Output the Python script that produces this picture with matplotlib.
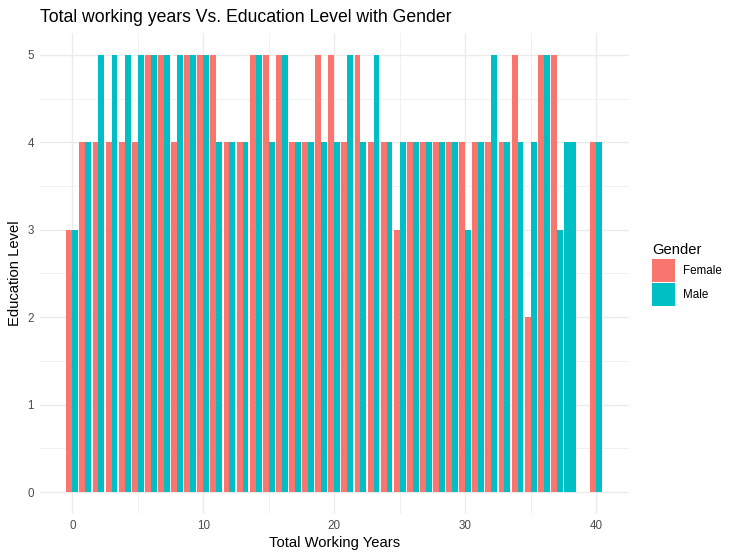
import matplotlib.pyplot as plt
from matplotlib.patches import Patch
from matplotlib.ticker import MultipleLocator

plt.rcParams['font.family'] = ['Liberation Sans', 'DejaVu Sans']

female_years = list(range(0, 38)) + [40]
female_edu = [3, 4, 4, 4, 4, 4, 5, 5, 4, 5, 5, 5, 4, 4, 5, 5, 5, 4, 4, 5,
              5, 4, 5, 4, 4, 3, 4, 4, 4, 4, 4, 4, 4, 4, 5, 2, 5, 5, 4]
male_years = list(range(0, 39)) + [40]
male_edu = [3, 4, 5, 5, 5, 5, 5, 5, 5, 5, 5, 4, 4, 4, 5, 4, 5, 4, 4, 4,
            4, 5, 4, 5, 4, 4, 4, 4, 4, 4, 3, 4, 5, 4, 4, 4, 5, 3, 4, 4]
groups = ['Female', 'Male']
colors = {'Female': '#F8766D', 'Male': '#00BFC4'}
series = {'Female': dict(zip(female_years, female_edu)),
          'Male': dict(zip(male_years, male_edu))}

fig = plt.figure(figsize=(7.39, 5.59), dpi=100)
ax = fig.add_axes([0.0535, 0.0805, 0.7975, 0.8605])

# dodge like ggplot: groups present at each x share a 0.9 width
all_years = sorted(set(female_years) | set(male_years))
for yr in all_years:
    present = [g for g in groups if yr in series[g]]
    w = 0.9 / len(present)
    for i, g in enumerate(present):
        x = yr - 0.45 + w * (i + 0.5)
        ax.bar(x, series[g][yr], width=w, color=colors[g], zorder=2)

ax.set_xlim(-2.5, 42.5)
ax.set_ylim(-0.25, 5.25)
ax.xaxis.set_major_locator(MultipleLocator(10))
ax.xaxis.set_minor_locator(MultipleLocator(5))
ax.yaxis.set_major_locator(MultipleLocator(1))
ax.yaxis.set_minor_locator(MultipleLocator(0.5))
ax.grid(which='major', color='#EBEBEB', linewidth=1.0, zorder=0)
ax.grid(which='minor', color='#EBEBEB', linewidth=0.5, zorder=0)
ax.set_axisbelow(True)
for s in ax.spines.values():
    s.set_visible(False)
ax.tick_params(which='both', length=0, labelsize=8.4, labelcolor='#4D4D4D', pad=4)

ax.set_xlabel('Total Working Years', fontsize=10.6, labelpad=3)
ax.set_ylabel('Education Level', fontsize=10.6, labelpad=4)
ax.set_title('Total working years Vs. Education Level with Gender',
             fontsize=12.7, loc='left', pad=8)

handles = [Patch(facecolor=colors[g], label=g) for g in groups]
leg = fig.legend(handles=handles, title='Gender', loc='upper left',
                 bbox_to_anchor=(0.882, 0.566), frameon=False, fontsize=8.4,
                 title_fontsize=10.6, alignment='left', handlelength=2.0,
                 handleheight=2.6, labelspacing=0.1, handletextpad=0.7,
                 borderpad=0, borderaxespad=0)
leg._legend_box.sep = 2

fig.savefig('out.png', dpi=100)
